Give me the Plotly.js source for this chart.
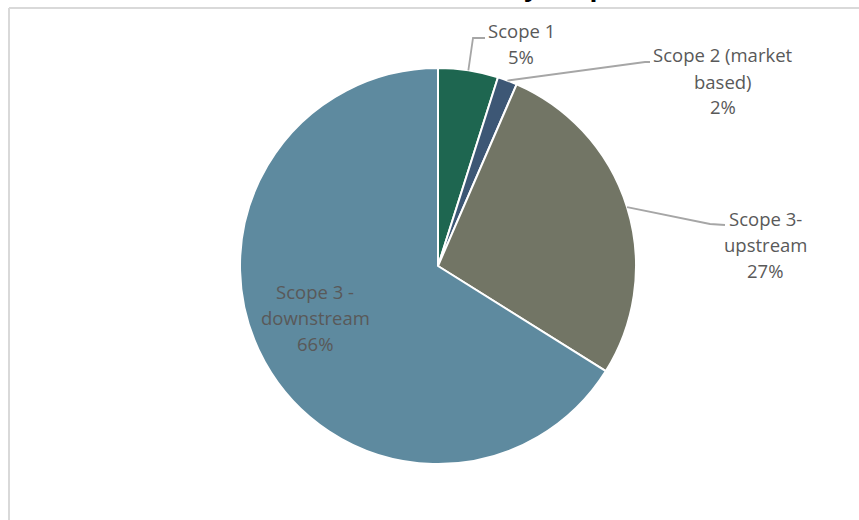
<!DOCTYPE html>
<html>
<head>
<meta charset="utf-8">
<script src="https://cdn.plot.ly/plotly-3.0.1.min.js"></script>
<style>
  html, body { margin: 0; padding: 0; background: #ffffff; }
  #chart { width: 859px; height: 520px; }
</style>
</head>
<body>
<div id="chart"></div>
<script>
// ---- data ----
const categories = ["Scope 1", "Scope 2 (market based)", "Scope 3- upstream", "Scope 3 - downstream"];
const values = [4.9, 1.6, 27.4, 66.1];
const labelLines = [["Scope 1"], ["Scope 2 (market", "based)"], ["Scope 3-", "upstream"], ["Scope 3 -", "downstream"]];
const titleText = "Emissions by Scope";

// ---- style / layout ----
const sliceColors = ["#1E6650", "#3D5775", "#727565", "#5E8A9F"];
const W = 859, H = 520;
const cx = 438, cy = 266, R = 198;           // pie centre and radius in pixels
const labelPos = [[521, 43], [723, 81], [765, 244], [315, 317]];
const lineGap = 26;
const leaderElbows = [[[473, 38], [485, 38]], [[645, 62], [650, 62]], [[710, 224], [725, 225]], null];
const textColor = "#595959";
const leaderColor = "#A6A6A6";
const fontFam = "'Open Sans', 'Noto Sans', sans-serif";

const px = x => x / W;
const py = y => 1 - y / H;

const total = values.reduce((a, b) => a + b, 0);

const trace = {
  type: "pie",
  labels: categories,
  values: values,
  sort: false,
  direction: "clockwise",
  rotation: 0,
  textinfo: "none",
  hoverinfo: "label+percent",
  marker: { colors: sliceColors, line: { color: "#ffffff", width: 2 } },
  domain: { x: [px(cx - R), px(cx + R)], y: [py(cy + R), py(cy - R)] },
  showlegend: false
};

const annotations = [];
const shapes = [];
let cum = 0;
values.forEach((v, i) => {
  const pct = Math.round(v / total * 100) + "%";
  const lines = labelLines[i].concat([pct]);
  const n = lines.length;
  lines.forEach((ln, k) => {
    annotations.push({
      xref: "paper", yref: "paper",
      x: px(labelPos[i][0]), y: py(labelPos[i][1] + (k - (n - 1) / 2) * lineGap),
      xanchor: "center", yanchor: "middle",
      text: ln, showarrow: false, align: "center",
      font: { family: fontFam, size: 18.5, color: textColor }
    });
  });
  const mid = (cum + v / 2) / total * 2 * Math.PI;
  cum += v;
  if (leaderElbows[i]) {
    const sx = cx + R * Math.sin(mid);
    const sy = cy - R * Math.cos(mid);
    let path = "M " + px(sx) + "," + py(sy);
    leaderElbows[i].forEach(p => { path += " L " + px(p[0]) + "," + py(p[1]); });
    shapes.push({
      type: "path", xref: "paper", yref: "paper", path: path,
      line: { color: leaderColor, width: 1.8 }
    });
  }
});

// chart-area border (top and left edges visible)
shapes.push({ type: "line", xref: "paper", yref: "paper", x0: px(9), x1: 1, y0: py(8), y1: py(8), line: { color: "#D9D9D9", width: 2 } });
shapes.push({ type: "line", xref: "paper", yref: "paper", x0: px(9), x1: px(9), y0: py(8), y1: 0, line: { color: "#D9D9D9", width: 2 } });

// title (cropped above the frame, as in the reference)
annotations.push({
  xref: "paper", yref: "paper",
  x: px(623), y: py(6), xanchor: "right", yanchor: "bottom",
  text: "<b>" + titleText + "</b>", showarrow: false,
  font: { family: fontFam, size: 26, color: "#000000" }
});

const layout = {
  width: W, height: H,
  margin: { l: 0, r: 0, t: 0, b: 0 },
  paper_bgcolor: "#ffffff",
  plot_bgcolor: "#ffffff",
  showlegend: false,
  annotations: annotations,
  shapes: shapes
};

Plotly.newPlot("chart", [trace], layout, { displayModeBar: false, staticPlot: true });
</script>
</body>
</html>
